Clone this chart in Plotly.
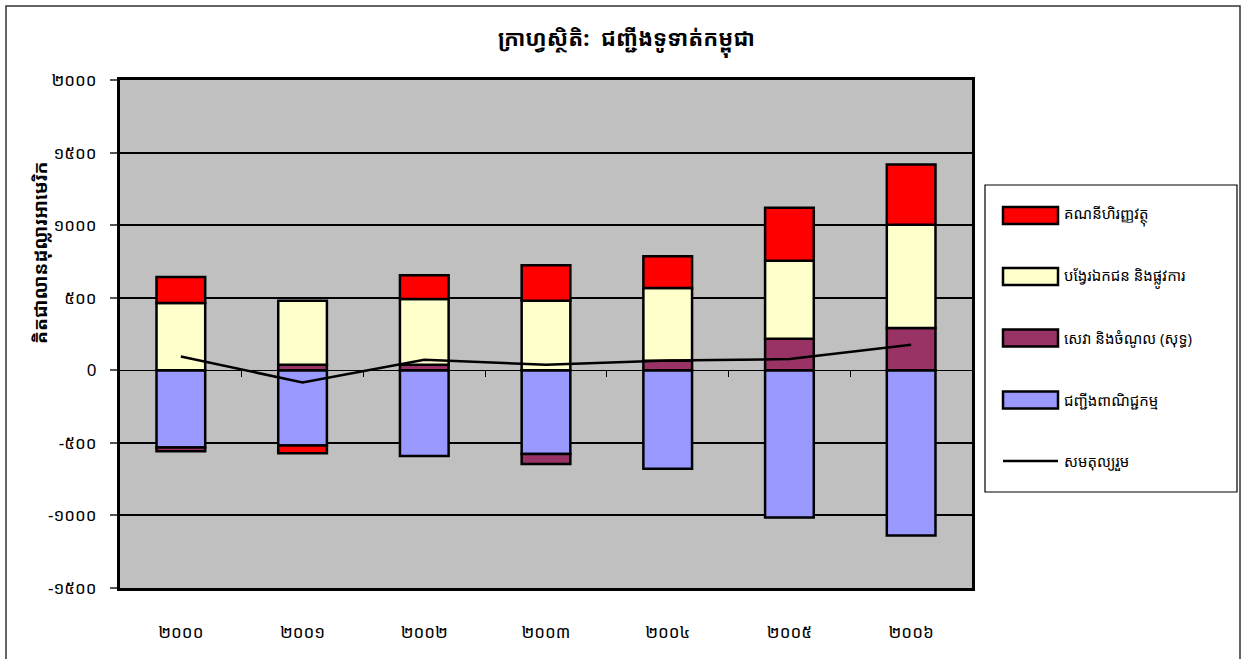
import plotly.graph_objects as go

# ---- data ----
years = ["២០០០", "២០០១", "២០០២", "២០០៣", "២០០៤", "២០០៥", "២០០៦"]
trade = [-532, -519, -590, -576, -679, -1015, -1139]
services = [-25, 38, 38, -69, 66, 217, 291]
transfers = [463, 441, 453, 479, 501, 538, 712]
financial = [180, -52, 163, 244, 218, 364, 414]
overall = [95, -84, 72, 38, 68, 77, 176]

ytick_vals = [2000, 1500, 1000, 500, 0, -500, -1000, -1500]
ytick_text = ["២០០០", "១៥០០", "១០០០", "៥០០", "0", "-៥០០", "-១០០០", "-១៥០០"]

names = ["ជញ្ជីងពាណិជ្ជកម្ម", "សេវា និងចំណូល (សុទ្ធ)", "បង្វែរឯកជន និងផ្លូវការ", "គណនីហិរញ្ញវត្ថុ"]
line_name = "សមតុល្យរួម"
colors = ["#9999FF", "#993366", "#FFFFCC", "#FF0000"]

title = "ក្រាហ្វស្ថិតិ:  ជញ្ជីងទូទាត់កម្ពុជា"
ytitle = "គិតជាលានដុល្លារអាមេរិក"

FONT = "Noto Sans Khmer, Khmer OS, DejaVu Sans, sans-serif"

W, H = 1242, 659
L, R, T, B = 120, 972, 80, 588  # plot area in pixels


def px(x):
    return (x - L) / (R - L)


def py(y):
    return (B - y) / (B - T)


fig = go.Figure()
for vals, nm, col in zip([trade, services, transfers, financial], names, colors):
    fig.add_trace(go.Bar(x=years, y=vals, name=nm, width=0.4,
                         marker=dict(color=col, line=dict(color="black", width=2.5)),
                         showlegend=False))
fig.add_trace(go.Scatter(x=years, y=overall, name=line_name, mode="lines",
                         line=dict(color="black", width=2.5), showlegend=False))

shapes = []
annotations = []

# outer frame
shapes.append(dict(type="rect", xref="paper", yref="paper",
                   x0=px(6), x1=px(1240), y0=py(700), y1=py(6),
                   line=dict(color="#333333", width=1.5), layer="below"))
# legend box
shapes.append(dict(type="rect", xref="paper", yref="paper",
                   x0=px(985), x1=px(1237), y0=py(492), y1=py(185),
                   line=dict(color="black", width=1.2), fillcolor="white"))
leg_items = [(names[3], colors[3], 215.5), (names[2], colors[2], 276.5),
             (names[1], colors[1], 338), (names[0], colors[0], 400)]
for nm, col, yc in leg_items:
    shapes.append(dict(type="rect", xref="paper", yref="paper",
                       x0=px(1003), x1=px(1058), y0=py(yc + 8.5), y1=py(yc - 8.5),
                       line=dict(color="black", width=2.5), fillcolor=col))
    annotations.append(dict(x=px(1062), y=py(yc), xref="paper", yref="paper",
                            text=nm, showarrow=False, xanchor="left", yanchor="middle",
                            font=dict(size=15, color="black", family=FONT)))
shapes.append(dict(type="line", xref="paper", yref="paper",
                   x0=px(1003), x1=px(1058), y0=py(461), y1=py(461),
                   line=dict(color="black", width=2.5)))
annotations.append(dict(x=px(1062), y=py(461), xref="paper", yref="paper",
                        text=line_name, showarrow=False, xanchor="left", yanchor="middle",
                        font=dict(size=15, color="black", family=FONT)))

# title
annotations.append(dict(x=px(626), y=py(40), xref="paper", yref="paper",
                        text="<b>" + title + "</b>", showarrow=False,
                        xanchor="center", yanchor="middle",
                        font=dict(size=22, color="black", family=FONT)))
# y-axis title
annotations.append(dict(x=px(40), y=py(253), xref="paper", yref="paper",
                        text="<b>" + ytitle + "</b>", showarrow=False, textangle=-90,
                        xanchor="center", yanchor="middle",
                        font=dict(size=19, color="black", family=FONT)))

zero_pos = (0 - ytick_vals[-1]) / (ytick_vals[0] - ytick_vals[-1])

fig.update_layout(
    width=W, height=H,
    margin=dict(l=L, r=W - R, t=T, b=H - B),
    paper_bgcolor="white", plot_bgcolor="#C0C0C0",
    barmode="relative",
    font=dict(family=FONT, size=14, color="black"),
    shapes=shapes, annotations=annotations,
    xaxis=dict(type="category", range=[-0.5, 6.5], showgrid=False,
               showline=True, mirror=True, linecolor="black", linewidth=3,
               ticks="", ticklabelstandoff=27, tickfont=dict(size=17)),
    xaxis2=dict(overlaying="x", anchor="free", position=zero_pos, range=[-0.5, 6.5],
                tickvals=[0.5, 1.5, 2.5, 3.5, 4.5, 5.5], showticklabels=False,
                ticks="outside", ticklen=6, tickcolor="black", tickwidth=1,
                showline=False, showgrid=False, zeroline=False),
    yaxis=dict(range=[ytick_vals[-1], ytick_vals[0]], tickvals=ytick_vals, ticktext=ytick_text,
               showgrid=True, gridcolor="black", gridwidth=2,
               zeroline=True, zerolinecolor="black", zerolinewidth=1,
               showline=True, mirror=True, linecolor="black", linewidth=3,
               ticks="outside", ticklen=7, tickcolor="#555555", tickwidth=1.5,
               ticklabelstandoff=10, tickfont=dict(size=17)),
)
fig.add_trace(go.Scatter(x=[], y=[], xaxis="x2", showlegend=False, hoverinfo="skip"))

fig.write_html("out.html", config={"displayModeBar": False},
               post_script="document.body.style.margin='0';document.body.style.overflow='hidden';")
